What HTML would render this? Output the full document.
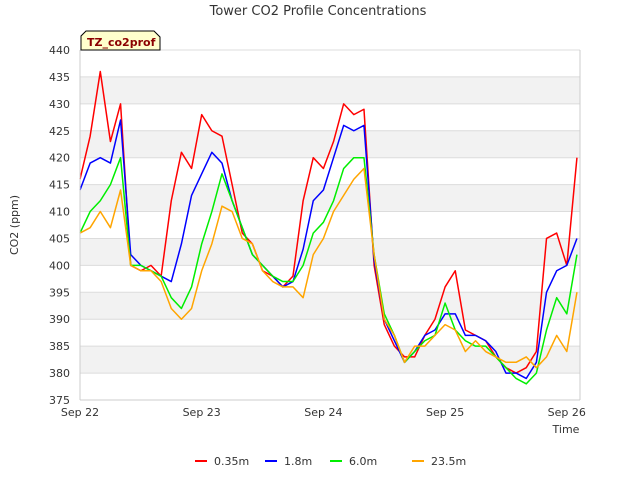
<!DOCTYPE html>
<html><head><meta charset="utf-8"><style>
body{margin:0;background:#fff;font-family:"Liberation Sans","DejaVu Sans",sans-serif}
</style></head><body>
<svg width="640" height="480" xmlns="http://www.w3.org/2000/svg" font-family="DejaVu Sans, Liberation Sans, sans-serif">
<text x="318" y="15" text-anchor="middle" font-size="13" fill="#333">Tower CO2 Profile Concentrations</text>
<g id="grid"></g>
<g id="series"></g>
<g id="axes"></g>
<text transform="translate(18,225) rotate(-90)" text-anchor="middle" font-size="11" fill="#333">CO2 (ppm)</text>
<text x="566" y="433" text-anchor="middle" font-size="11" fill="#333">Time</text>
<g>
<path d="M81,50 L81,36 L86,31 L154,31 L160,37 L160,50 Z" fill="#ffffcc" stroke="#000"/>
<text x="87" y="46" font-size="11" font-weight="bold" fill="#8b0000">TZ_co2prof</text>
</g>
<g id="legend"></g>
</svg>
<script>
const hours=[0,2,4,6,8,10,12,14,16,18,20,22,24,26,28,30,32,34,36,38,40,42,44,46,48,50,52,54,56,58,60,62,64,66,68,70,72,74,76,78,80,82,84,86,88,90,92,94,96,98];
const s035=[416,424,436,423,430,400,399,400,398,412,421,418,428,425,424,415,406,404,399,398,396,398,412,420,418,423,430,428,429,400,389,385,383,383,387,390,396,399,388,387,386,383,381,380,381,384,405,406,400,420];
const s18=[414,419,420,419,427,402,400,399,398,397,404,413,417,421,419,412,407,402,400,398,396,397,403,412,414,420,426,425,426,401,390,386,382,384,387,388,391,391,387,387,386,384,380,380,379,382,395,399,400,405];
const s60=[406,410,412,415,420,400,400,399,398,394,392,396,404,410,417,412,407,402,400,398,397,397,400,406,408,412,418,420,420,402,391,387,382,384,386,387,393,388,386,385,385,383,381,379,378,380,388,394,391,402];
const s235=[406,407,410,407,414,400,399,399,397,392,390,392,399,404,411,410,405,404,399,397,396,396,394,402,405,410,413,416,418,402,390,387,382,385,385,387,389,388,384,386,384,383,382,382,383,381,383,387,384,395];
const yTicks=[375,380,385,390,395,400,405,410,415,420,425,430,435,440];
const xTickLabels=["Sep 22","Sep 23","Sep 24","Sep 25","Sep 26"];
const names=["0.35m","1.8m","6.0m","23.5m"];
const colors=["#ff0000","#0000ff","#00ee00","#ffa500"];
const X0=80,X1=580,Y0=50,Y1=400;
const xs=h=>X0+h*121.7/24;
const ys=v=>Y0+(440-v)*(Y1-Y0)/65;
const NS="http://www.w3.org/2000/svg";
function mk(t,a,p){const e=document.createElementNS(NS,t);for(const k in a)e.setAttribute(k,a[k]);p.appendChild(e);return e;}
const grid=document.getElementById('grid'),axes=document.getElementById('axes'),ser=document.getElementById('series'),leg=document.getElementById('legend');
for(let i=0;i<yTicks.length-1;i++){if(i%2===1){const r=mk('rect',{x:X0,y:ys(yTicks[i+1]),width:X1-X0,height:ys(yTicks[i])-ys(yTicks[i+1]),fill:'#f2f2f2'},grid);}}
yTicks.forEach(v=>{const l=mk('line',{x1:X0,x2:X1,y1:ys(v),y2:ys(v),stroke:'#dcdcdc'},grid);
const t=mk('text',{x:X0-10,y:ys(v)+4,'text-anchor':'end','font-size':11,fill:'#333'},axes);t.textContent=v;});
mk('line',{x1:X0,x2:X0,y1:Y0,y2:Y1,stroke:'#ccc'},axes);mk('line',{x1:X1,x2:X1,y1:Y0,y2:Y1,stroke:'#ccc'},axes);mk('line',{x1:X0,x2:X1,y1:Y1,y2:Y1,stroke:'#ccc'},axes);
xTickLabels.forEach((s,i)=>{const t=mk('text',{x:xs(i*24),y:Y1+16,'text-anchor':'middle','font-size':11,fill:'#333'},axes);t.textContent=s;});
[s035,s18,s60,s235].forEach((d,k)=>{const p=mk('polyline',{points:d.map((v,i)=>xs(hours[i])+','+ys(v)).join(' '),fill:'none',stroke:colors[k],'stroke-width':1.5,'stroke-linejoin':'round'},ser);});
const lx=[195,265,330,412];
names.forEach((n,k)=>{const g=mk('g',{},leg);
mk('line',{x1:lx[k],x2:lx[k]+12,y1:461,y2:461,stroke:colors[k],'stroke-width':2},g);
const t=mk('text',{x:lx[k]+19,y:465,'font-size':11,fill:'#333'},g);t.textContent=n;});
</script>
</body></html>
